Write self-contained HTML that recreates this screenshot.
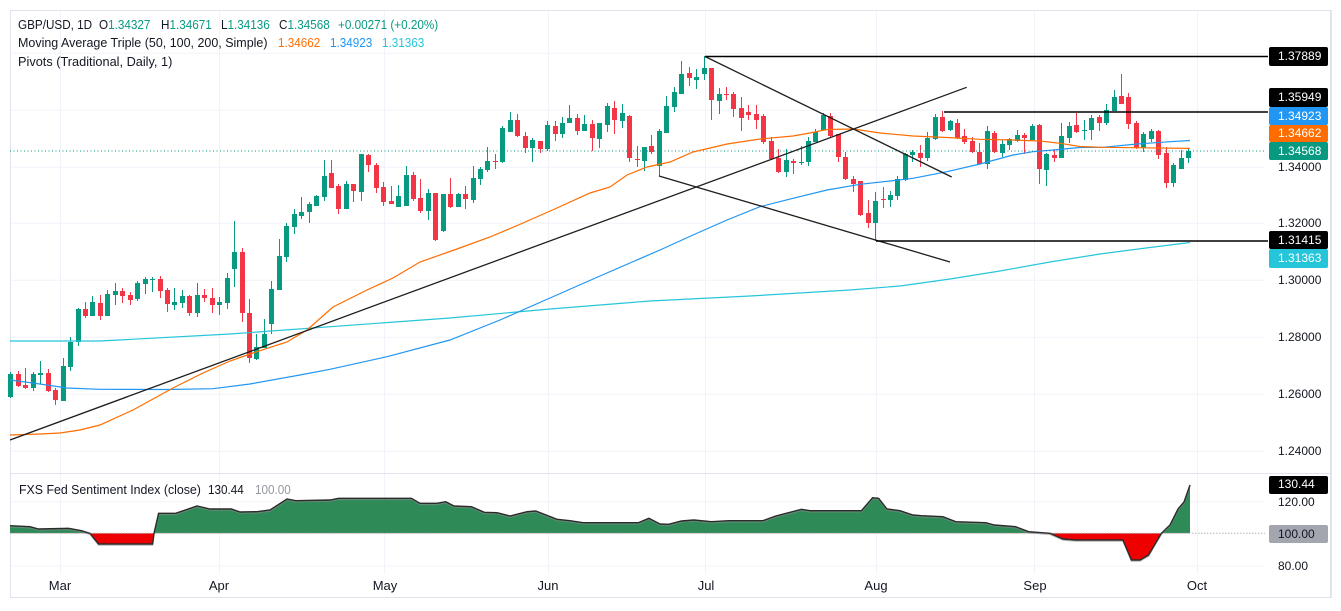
<!DOCTYPE html>
<html><head><meta charset="utf-8">
<style>
html,body{margin:0;padding:0;background:#fff;}
body{width:1341px;height:611px;position:relative;overflow:hidden;font-family:"Liberation Sans",Arial,sans-serif;color:#131722;}
.abs{position:absolute;}
#c{position:absolute;left:7.268px;top:0;display:flex;height:611px;}
#c i{flex:none;width:7.464px;height:611px;position:relative;display:block;}
#c i::before{content:"";position:absolute;left:3.232px;width:1px;top:calc(var(--h)*1px);height:calc((var(--l) - var(--h))*1px);background:var(--k);}
#c i::after{content:"";position:absolute;left:1.232px;width:5px;top:calc(var(--t)*1px);height:max(1px,calc((var(--b) - var(--t))*1px));background:var(--k);}
.g{--k:#089981}.r{--k:#f23645}
.lg{position:absolute;font-size:13px;line-height:16px;white-space:pre;transform:scaleX(.9);transform-origin:0 0;}
.t{color:#089981}
.ax{position:absolute;left:1278px;font-size:12px;line-height:14px;color:#131722;white-space:pre;}
.bx{position:absolute;left:1268.5px;width:59.5px;border-radius:2px;color:#fff;font-size:12px;box-sizing:border-box;padding-left:9.5px;white-space:pre;}
.mo{position:absolute;top:578px;font-size:13px;line-height:16px;width:40px;margin-left:-20px;text-align:center;color:#131722;}
</style></head><body>

<svg class="abs" style="left:0;top:0" width="1341" height="611">
  <g stroke="#f0f3fa" stroke-width="1">
    <line x1="10" y1="53.3" x2="1265" y2="53.3"/>
    <line x1="10" y1="110.3" x2="1265" y2="110.3"/>
    <line x1="10" y1="167.3" x2="1265" y2="167.3"/>
    <line x1="10" y1="223.3" x2="1265" y2="223.3"/>
    <line x1="10" y1="280.3" x2="1265" y2="280.3"/>
    <line x1="10" y1="337.3" x2="1265" y2="337.3"/>
    <line x1="10" y1="394.3" x2="1265" y2="394.3"/>
    <line x1="10" y1="451.3" x2="1265" y2="451.3"/>
    <line x1="10" y1="501.7" x2="1265" y2="501.7"/>
    <line x1="10" y1="566" x2="1265" y2="566"/>
    <line x1="60.5" y1="11" x2="60.5" y2="574"/>
    <line x1="219.5" y1="11" x2="219.5" y2="574"/>
    <line x1="384.5" y1="11" x2="384.5" y2="574"/>
    <line x1="548.5" y1="11" x2="548.5" y2="574"/>
    <line x1="705.5" y1="11" x2="705.5" y2="574"/>
    <line x1="876.5" y1="11" x2="876.5" y2="574"/>
    <line x1="1034.5" y1="11" x2="1034.5" y2="574"/>
    <line x1="1197.5" y1="11" x2="1197.5" y2="574"/>
  </g>
  <rect x="10.5" y="10.5" width="1320" height="587" fill="none" stroke="#e0e3eb" stroke-width="1"/>
  <line x1="1331" y1="10" x2="1331" y2="598" stroke="#e0e3eb" stroke-width="2"/>
  <line x1="10" y1="473.5" x2="1331" y2="473.5" stroke="#e0e3eb" stroke-width="1"/>
</svg>

<div id="c">
<i class=g style="--h:372;--l:398;--t:374;--b:397"></i>
<i class=r style="--h:370.7;--l:387;--t:374;--b:386"></i>
<i class=r style="--h:368;--l:389;--t:385;--b:388"></i>
<i class=g style="--h:372;--l:391;--t:374;--b:387.7"></i>
<i class=g style="--h:360.7;--l:384;--t:372.7;--b:374.7"></i>
<i class=r style="--h:369;--l:391.7;--t:373;--b:390.7"></i>
<i class=r style="--h:388.3;--l:404.7;--t:390;--b:399.7"></i>
<i class=g style="--h:358;--l:400.7;--t:366;--b:400.7"></i>
<i class=g style="--h:337.3;--l:370.7;--t:342;--b:366.7"></i>
<i class=g style="--h:307.7;--l:345.7;--t:309;--b:342"></i>
<i class=r style="--h:302;--l:317.7;--t:309;--b:316"></i>
<i class=g style="--h:295.7;--l:316;--t:302;--b:316"></i>
<i class=r style="--h:295;--l:319.7;--t:303;--b:315.7"></i>
<i class=g style="--h:290;--l:315.7;--t:294;--b:315.7"></i>
<i class=g style="--h:283;--l:304.7;--t:291;--b:294.7"></i>
<i class=r style="--h:288;--l:302.7;--t:291;--b:295.7"></i>
<i class=r style="--h:292;--l:304.7;--t:295;--b:299.7"></i>
<i class=g style="--h:281;--l:300.7;--t:283;--b:298.7"></i>
<i class=g style="--h:277;--l:293.7;--t:279;--b:283.7"></i>
<i class=g style="--h:277;--l:292;--t:278.5;--b:279.5"></i>
<i class=r style="--h:276;--l:297.7;--t:278.7;--b:290.7"></i>
<i class=r style="--h:288;--l:311.7;--t:290;--b:303.7"></i>
<i class=g style="--h:288;--l:309.7;--t:302;--b:305"></i>
<i class=g style="--h:290;--l:307.7;--t:296;--b:302.7"></i>
<i class=r style="--h:295;--l:315.7;--t:295.7;--b:312.7"></i>
<i class=g style="--h:283;--l:316.7;--t:295;--b:312.7"></i>
<i class=r style="--h:289;--l:301.7;--t:295;--b:297.7"></i>
<i class=r style="--h:287.7;--l:312.7;--t:297.7;--b:304.7"></i>
<i class=g style="--h:296.7;--l:314.7;--t:302;--b:304.7"></i>
<i class=g style="--h:273;--l:308.5;--t:278;--b:302.7"></i>
<i class=g style="--h:221;--l:287.3;--t:252.3;--b:268.7"></i>
<i class=r style="--h:248;--l:321.7;--t:252.3;--b:313.3"></i>
<i class=r style="--h:299;--l:362.7;--t:313;--b:358.3"></i>
<i class=g style="--h:333.7;--l:360.3;--t:347.3;--b:358.7"></i>
<i class=g style="--h:319.3;--l:348;--t:333.7;--b:348"></i>
<i class=g style="--h:281.3;--l:333.7;--t:289.3;--b:323.7"></i>
<i class=g style="--h:239;--l:289.7;--t:256;--b:289.7"></i>
<i class=g style="--h:222.7;--l:261.7;--t:226;--b:256.7"></i>
<i class=g style="--h:209;--l:233.7;--t:214.3;--b:226.7"></i>
<i class=g style="--h:197;--l:219.3;--t:212;--b:215.7"></i>
<i class=g style="--h:201.7;--l:222.7;--t:203.7;--b:212"></i>
<i class=g style="--h:195;--l:206;--t:196;--b:206"></i>
<i class=g style="--h:160;--l:201;--t:176;--b:196.7"></i>
<i class=r style="--h:160;--l:188;--t:173;--b:188"></i>
<i class=r style="--h:184.3;--l:213.7;--t:186;--b:209"></i>
<i class=g style="--h:181;--l:208.7;--t:184.3;--b:208.7"></i>
<i class=r style="--h:184;--l:201.7;--t:184;--b:190.7"></i>
<i class=g style="--h:154;--l:200.7;--t:154;--b:191.7"></i>
<i class=r style="--h:154;--l:171.7;--t:155;--b:164.7"></i>
<i class=r style="--h:162.7;--l:192.7;--t:165;--b:187.7"></i>
<i class=r style="--h:182;--l:205.7;--t:187.3;--b:201.7"></i>
<i class=r style="--h:186;--l:204.3;--t:201;--b:203.7"></i>
<i class=g style="--h:185;--l:206.7;--t:196;--b:206.7"></i>
<i class=g style="--h:166.3;--l:206.3;--t:175;--b:206.3"></i>
<i class=r style="--h:172;--l:200.7;--t:175;--b:198.7"></i>
<i class=r style="--h:179;--l:212.7;--t:198;--b:210.7"></i>
<i class=g style="--h:189;--l:219.7;--t:193;--b:210.7"></i>
<i class=r style="--h:193;--l:241;--t:193;--b:240"></i>
<i class=g style="--h:194;--l:231.7;--t:194;--b:231"></i>
<i class=r style="--h:178;--l:207.7;--t:194;--b:206.7"></i>
<i class=g style="--h:193.3;--l:206.7;--t:194;--b:206.7"></i>
<i class=r style="--h:186;--l:209;--t:194;--b:199"></i>
<i class=g style="--h:166;--l:202.7;--t:178;--b:200"></i>
<i class=g style="--h:167.3;--l:185;--t:168.7;--b:178.7"></i>
<i class=g style="--h:146.7;--l:171.7;--t:161;--b:170"></i>
<i class=r style="--h:154;--l:169;--t:160.7;--b:161.7"></i>
<i class=g style="--h:126;--l:162.7;--t:127.7;--b:162"></i>
<i class=g style="--h:111.7;--l:131.7;--t:120;--b:131.7"></i>
<i class=r style="--h:114.3;--l:137.3;--t:120;--b:136"></i>
<i class=r style="--h:131.7;--l:152.7;--t:136;--b:147.7"></i>
<i class=g style="--h:137.7;--l:161.7;--t:140;--b:147.7"></i>
<i class=r style="--h:141;--l:153.3;--t:141;--b:149.3"></i>
<i class=g style="--h:121;--l:151;--t:125.3;--b:149"></i>
<i class=r style="--h:121;--l:140.7;--t:126;--b:133.7"></i>
<i class=g style="--h:117.3;--l:137.7;--t:123;--b:133.7"></i>
<i class=g style="--h:105;--l:122.7;--t:118;--b:122.7"></i>
<i class=r style="--h:114;--l:135.3;--t:118;--b:130.7"></i>
<i class=g style="--h:115;--l:131;--t:124;--b:131"></i>
<i class=r style="--h:120;--l:151;--t:124;--b:138"></i>
<i class=g style="--h:123;--l:147.7;--t:123;--b:138.7"></i>
<i class=g style="--h:102.7;--l:132;--t:106;--b:125.3"></i>
<i class=r style="--h:101;--l:134;--t:108;--b:119.7"></i>
<i class=g style="--h:104;--l:127.7;--t:113;--b:120.7"></i>
<i class=r style="--h:115;--l:162;--t:116;--b:158"></i>
<i class=r style="--h:145.7;--l:167;--t:158.7;--b:159.7"></i>
<i class=g style="--h:147.3;--l:171;--t:147.3;--b:161"></i>
<i class=r style="--h:135;--l:154;--t:146;--b:151.7"></i>
<i class=g style="--h:129;--l:176;--t:130.7;--b:166.3"></i>
<i class=g style="--h:96;--l:132.7;--t:106;--b:132.7"></i>
<i class=g style="--h:86.7;--l:112.3;--t:92;--b:106.7"></i>
<i class=g style="--h:61;--l:93.7;--t:74;--b:93.7"></i>
<i class=r style="--h:67;--l:85.7;--t:73;--b:77.7"></i>
<i class=g style="--h:69;--l:89;--t:77;--b:79.7"></i>
<i class=g style="--h:56;--l:80;--t:68;--b:74"></i>
<i class=r style="--h:68;--l:119.7;--t:68;--b:99.7"></i>
<i class=g style="--h:87.7;--l:114.3;--t:93.7;--b:101"></i>
<i class=r style="--h:87;--l:99.7;--t:93.7;--b:95.3"></i>
<i class=r style="--h:92;--l:116.7;--t:93.7;--b:108.7"></i>
<i class=r style="--h:97;--l:130.7;--t:108;--b:117.7"></i>
<i class=r style="--h:105;--l:120;--t:112;--b:114.7"></i>
<i class=r style="--h:105;--l:129;--t:114;--b:119.7"></i>
<i class=r style="--h:114;--l:144;--t:116;--b:142"></i>
<i class=r style="--h:137;--l:160;--t:141;--b:159"></i>
<i class=r style="--h:149;--l:173;--t:158;--b:172"></i>
<i class=g style="--h:149;--l:177;--t:160;--b:172"></i>
<i class=r style="--h:159;--l:174;--t:161;--b:163"></i>
<i class=g style="--h:146;--l:164.7;--t:162.3;--b:163.3"></i>
<i class=g style="--h:137;--l:166;--t:141;--b:162"></i>
<i class=g style="--h:129;--l:142;--t:131.7;--b:142"></i>
<i class=g style="--h:113;--l:130;--t:114.7;--b:130"></i>
<i class=r style="--h:113;--l:137;--t:115.7;--b:136"></i>
<i class=r style="--h:134.3;--l:162;--t:134.3;--b:157"></i>
<i class=r style="--h:152;--l:180;--t:157;--b:179"></i>
<i class=r style="--h:176;--l:192;--t:179;--b:184"></i>
<i class=r style="--h:181;--l:216;--t:181;--b:215"></i>
<i class=r style="--h:200;--l:227.7;--t:213;--b:223"></i>
<i class=g style="--h:192;--l:241;--t:201;--b:223"></i>
<i class=r style="--h:186.7;--l:207.7;--t:198.5;--b:199.7"></i>
<i class=g style="--h:191;--l:206.7;--t:195;--b:199.7"></i>
<i class=g style="--h:176;--l:199.7;--t:179;--b:195.7"></i>
<i class=g style="--h:153;--l:180.7;--t:154;--b:180"></i>
<i class=g style="--h:150;--l:161.7;--t:152.3;--b:155"></i>
<i class=r style="--h:145;--l:166.7;--t:153;--b:157.7"></i>
<i class=g style="--h:131.7;--l:161;--t:138;--b:158.3"></i>
<i class=g style="--h:114;--l:140;--t:117;--b:139"></i>
<i class=r style="--h:111.3;--l:132;--t:117;--b:131"></i>
<i class=g style="--h:120;--l:131;--t:121;--b:130"></i>
<i class=r style="--h:119;--l:138.7;--t:123;--b:138"></i>
<i class=r style="--h:129;--l:144.3;--t:136;--b:141.7"></i>
<i class=r style="--h:137;--l:153.3;--t:141;--b:152"></i>
<i class=r style="--h:143;--l:164;--t:152;--b:164"></i>
<i class=g style="--h:126;--l:168.7;--t:131;--b:164"></i>
<i class=r style="--h:131;--l:153;--t:133;--b:152"></i>
<i class=g style="--h:140;--l:156.7;--t:144;--b:153"></i>
<i class=g style="--h:138;--l:150;--t:139;--b:145"></i>
<i class=g style="--h:130;--l:142;--t:135;--b:141"></i>
<i class=r style="--h:133;--l:154;--t:135;--b:138"></i>
<i class=g style="--h:124;--l:140;--t:126;--b:140"></i>
<i class=r style="--h:124;--l:183.7;--t:125;--b:168.7"></i>
<i class=g style="--h:153;--l:185.7;--t:154;--b:169.7"></i>
<i class=r style="--h:150;--l:161.7;--t:155;--b:157.7"></i>
<i class=g style="--h:123;--l:157.7;--t:136;--b:157.7"></i>
<i class=g style="--h:122;--l:143;--t:126;--b:138"></i>
<i class=r style="--h:113;--l:133;--t:125;--b:132"></i>
<i class=g style="--h:120;--l:140;--t:129.5;--b:130.5"></i>
<i class=g style="--h:115;--l:140;--t:118;--b:130"></i>
<i class=r style="--h:115;--l:131;--t:117;--b:123"></i>
<i class=g style="--h:104;--l:125;--t:110;--b:123.3"></i>
<i class=g style="--h:90;--l:111;--t:97;--b:111"></i>
<i class=r style="--h:74;--l:103.7;--t:96;--b:103.7"></i>
<i class=r style="--h:93;--l:129;--t:97;--b:124"></i>
<i class=r style="--h:121;--l:149.3;--t:123;--b:148.3"></i>
<i class=g style="--h:132;--l:152;--t:134;--b:148"></i>
<i class=g style="--h:129;--l:142;--t:131;--b:139"></i>
<i class=r style="--h:130;--l:159;--t:131;--b:155"></i>
<i class=r style="--h:147;--l:188;--t:153;--b:183"></i>
<i class=g style="--h:163;--l:187;--t:165;--b:183"></i>
<i class=g style="--h:150;--l:169;--t:158;--b:169"></i>
<i class=g style="--h:148;--l:163;--t:151;--b:158"></i>
</div>

<svg class="abs" style="left:0;top:0" width="1341" height="611">
  <defs>
    <clipPath id="pane"><rect x="10" y="11" width="1258" height="462"/></clipPath>
    <clipPath id="above"><rect x="10" y="474" width="1255" height="59.3"/></clipPath>
    <clipPath id="below"><rect x="10" y="533.3" width="1255" height="40"/></clipPath>
  </defs>
  <g clip-path="url(#pane)" fill="none">
    <line x1="10" y1="151" x2="1265" y2="151" stroke="#089981" stroke-width="1" stroke-dasharray="1 2.5"/>
    <polyline stroke="#26c6da" stroke-width="1.2" points="10,341 100,341 230,334 450,318 550,309 650,301 750,296 850,290 900,286 950,279 1000,271 1050,262 1100,254 1150,247.5 1190,242.5"/>
    <polyline stroke="#2196f3" stroke-width="1.2" points="10,380 33,383 67,388 100,389.3 167,389.5 213,388.7 250,384 300,375 330,369.3 387,356.7 450,340 500,320 550,298 600,276 660,250 693,235 727,220 760,206.7 793,198.3 827,190 860,184.3 890,181 913,178.3 947,171.7 980,164 1013,155 1033,151.7 1053,150 1080,147.5 1103,147.3 1137,144 1170,141.7 1190,140.5"/>
    <polyline stroke="#ff6d00" stroke-width="1.2" points="10,435 40,434 60,433 80,430 100,425 133,410 173,388 203,373 230,361 253,353 287,342 307,330 333,307 367,290 393,278 420,262 457,249 490,237 523,223 557,208 590,193 610,187 627,175 647,167 670,162 693,152 727,144 760,139 793,136 810,133 827,129.5 853,129 880,133 913,136 947,137.5 980,139.3 1013,140 1040,141 1060,143.3 1080,146.5 1103,147.3 1190,148.4"/>
    <g stroke="#1e1e1e" stroke-width="1.3">
      <line x1="10" y1="440" x2="966.7" y2="87.3"/>
      <line x1="705" y1="56.5" x2="951.7" y2="177"/>
      <line x1="659" y1="176" x2="950" y2="262"/>
    </g>
    <g stroke="#000" stroke-width="1.6">
      <line x1="705" y1="56.5" x2="1268" y2="56.5"/>
      <line x1="944" y1="112" x2="1268" y2="112"/>
      <line x1="876" y1="241" x2="1268" y2="241"/>
    </g>
  </g>
  <g>
    <path id="areaPath" d="M10,525.7 L30,526.7 L38.6,529 L68.6,528.3 L81.4,530.7 L90,533.3 L98.6,544 L152.6,544 L154,533.3 L158.6,513.3 L175.7,513.3 L197,506 L210,509 L231.4,509 L240,512 L257,511.7 L270,510 L287,499 L295.7,500.7 L330,500 L338.6,498.3 L411.4,498.3 L420,503.3 L437,503.3 L445.7,501.7 L454,506 L471.4,506.7 L484.3,512.3 L497,512.7 L510,516 L527,511.7 L535.7,511 L557,519.3 L570,520.7 L583,522.7 L638.6,522.7 L648.9,518.3 L660,524 L668.6,524.3 L681.4,521 L694,520 L711.4,521.7 L728.6,520.7 L763,520.7 L775.7,516 L801.4,509.3 L810,510.7 L861.4,510.7 L872.6,497.7 L878.6,498.3 L887,509 L900,510.7 L912.9,515 L921.4,515.7 L942.9,516.7 L955.7,521.7 L985.7,522.7 L994.3,525 L1015.7,526.7 L1028.6,531.7 L1050,533.3 L1062.9,539 L1075.7,540 L1122.9,540 L1131.4,560 L1140,560 L1148.6,555 L1161.4,533.3 L1170,525 L1178,509 L1184,502 L1190,485" fill="none"/>
    <path clip-path="url(#above)" fill="#2e8b57" d="M10,533.3 L10,525.7 L30,526.7 L38.6,529 L68.6,528.3 L81.4,530.7 L90,533.3 L98.6,544 L152.6,544 L154,533.3 L158.6,513.3 L175.7,513.3 L197,506 L210,509 L231.4,509 L240,512 L257,511.7 L270,510 L287,499 L295.7,500.7 L330,500 L338.6,498.3 L411.4,498.3 L420,503.3 L437,503.3 L445.7,501.7 L454,506 L471.4,506.7 L484.3,512.3 L497,512.7 L510,516 L527,511.7 L535.7,511 L557,519.3 L570,520.7 L583,522.7 L638.6,522.7 L648.9,518.3 L660,524 L668.6,524.3 L681.4,521 L694,520 L711.4,521.7 L728.6,520.7 L763,520.7 L775.7,516 L801.4,509.3 L810,510.7 L861.4,510.7 L872.6,497.7 L878.6,498.3 L887,509 L900,510.7 L912.9,515 L921.4,515.7 L942.9,516.7 L955.7,521.7 L985.7,522.7 L994.3,525 L1015.7,526.7 L1028.6,531.7 L1050,533.3 L1062.9,539 L1075.7,540 L1122.9,540 L1131.4,560 L1140,560 L1148.6,555 L1161.4,533.3 L1170,525 L1178,509 L1184,502 L1190,485 L1190,533.3 Z"/>
    <path clip-path="url(#below)" fill="#ee0000" d="M10,533.3 L10,525.7 L30,526.7 L38.6,529 L68.6,528.3 L81.4,530.7 L90,533.3 L98.6,544 L152.6,544 L154,533.3 L158.6,513.3 L175.7,513.3 L1015.7,526.7 L1028.6,531.7 L1050,533.3 L1062.9,539 L1075.7,540 L1122.9,540 L1131.4,560 L1140,560 L1148.6,555 L1161.4,533.3 L1170,525 L1178,509 L1184,502 L1190,485 L1190,533.3 Z"/>
    <line x1="10" y1="533.3" x2="1265" y2="533.3" stroke="#b2b5be" stroke-width="1" stroke-dasharray="1.5 1.5"/>
    <use href="#areaPath" stroke="#8a8a8a" stroke-width="1.2" transform="translate(0,1.2)" opacity="0.6"/>
    <use href="#areaPath" stroke="#2b2b2b" stroke-width="1.4"/>
  </g>
</svg>

<div class="lg" style="left:18px;top:17px">GBP/USD, 1D</div>
<div class="lg" style="left:99px;top:17px">O<span class="t">1.34327</span></div>
<div class="lg" style="left:161px;top:17px">H<span class="t">1.34671</span></div>
<div class="lg" style="left:221px;top:17px">L<span class="t">1.34136</span></div>
<div class="lg" style="left:279px;top:17px">C<span class="t">1.34568</span></div>
<div class="lg t" style="left:338px;top:17px">+0.00271 (+0.20%)</div>
<div class="lg" style="left:18px;top:35px;transform:scaleX(.96)">Moving Average Triple (50, 100, 200, Simple)</div>
<div class="lg" style="left:278px;top:35px;color:#ff6d00">1.34662</div>
<div class="lg" style="left:330px;top:35px;color:#2196f3">1.34923</div>
<div class="lg" style="left:382px;top:35px;color:#26c6da">1.31363</div>
<div class="lg" style="left:18px;top:54px;transform:scaleX(.98)">Pivots (Traditional, Daily, 1)</div>
<div class="lg" style="left:19px;top:482px;transform:scaleX(.95)">FXS Fed Sentiment Index (close)</div>
<div class="lg" style="left:208px;top:482px">130.44</div>
<div class="lg" style="left:255px;top:482px;color:#9598a1">100.00</div>

<div class="ax" style="top:160.3px">1.34000</div>
<div class="ax" style="top:216.3px">1.32000</div>
<div class="ax" style="top:273.3px">1.30000</div>
<div class="ax" style="top:330.3px">1.28000</div>
<div class="ax" style="top:387.3px">1.26000</div>
<div class="ax" style="top:444.3px">1.24000</div>
<div class="ax" style="top:494.7px">120.00</div>
<div class="ax" style="top:559px">80.00</div>

<div class="bx" style="top:47px;height:19px;line-height:19px;background:#000">1.37889</div>
<div class="bx" style="top:88.3px;height:18.4px;line-height:18.4px;background:#000">1.35949</div>
<div class="bx" style="top:106.7px;height:18.3px;line-height:18.3px;background:#2196f3">1.34923</div>
<div class="bx" style="top:125px;height:16.7px;line-height:16.7px;background:#ff6d00">1.34662</div>
<div class="bx" style="top:141.7px;height:18.3px;line-height:18.3px;background:#089981">1.34568</div>
<div class="bx" style="top:231px;height:18px;line-height:18px;background:#000">1.31415</div>
<div class="bx" style="top:249px;height:18.7px;line-height:18.7px;background:#26c6da">1.31363</div>
<div class="bx" style="top:476px;height:17.5px;line-height:17.5px;background:#000">130.44</div>
<div class="bx" style="top:525px;height:18px;line-height:18px;background:#a3a6af;color:#131722">100.00</div>

<div class="mo" style="left:60px">Mar</div>
<div class="mo" style="left:219px">Apr</div>
<div class="mo" style="left:385px">May</div>
<div class="mo" style="left:548px">Jun</div>
<div class="mo" style="left:706px">Jul</div>
<div class="mo" style="left:876px">Aug</div>
<div class="mo" style="left:1035px">Sep</div>
<div class="mo" style="left:1197px">Oct</div>

</body></html>
